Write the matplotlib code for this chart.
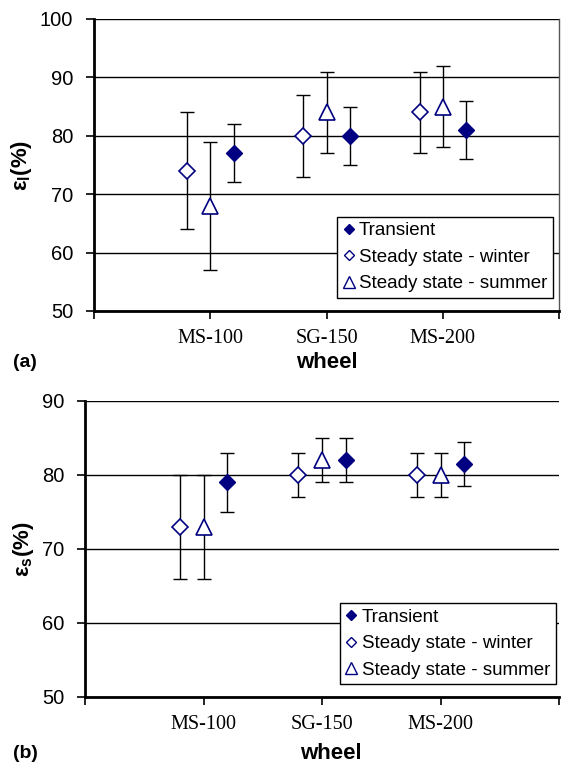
import numpy as np
import matplotlib
matplotlib.use("Agg")
import matplotlib.pyplot as plt

plt.rcParams['font.family'] = ['Liberation Sans', 'DejaVu Sans']
plt.rcParams['mathtext.fontset'] = 'custom'
plt.rcParams['mathtext.rm'] = 'Liberation Sans:bold'

wheels = ["MS-100", "SG-150", "MS-200"]
series = ["Transient", "Steady state - winter", "Steady state - summer"]

# (a) epsilon_l, mean and +/- error
eps_l_transient = [77, 80, 81]
eps_l_transient_err = [5, 5, 5]
eps_l_winter = [74, 80, 84]
eps_l_winter_err = [10, 7, 7]
eps_l_summer = [68, 84, 85]
eps_l_summer_err = [11, 7, 7]

# (b) epsilon_s
eps_s_transient = [79, 82, 81.5]
eps_s_transient_err = [4, 3, 3]
eps_s_winter = [73, 80, 80]
eps_s_winter_err = [7, 3, 3]
eps_s_summer = [73, 82, 80]
eps_s_summer_err = [7, 3, 3]

NAVY = "#000080"
offsets = {"Transient": 0.2, "Steady state - winter": -0.2, "Steady state - summer": 0.0}
styles = {
    "Transient": dict(marker="D", ms=8, mfc=NAVY, mec=NAVY, mew=1.0),
    "Steady state - winter": dict(marker="D", ms=8, mfc="white", mec=NAVY, mew=1.2),
    "Steady state - summer": dict(marker="^", ms=12, mfc="white", mec=NAVY, mew=1.2),
}


def draw_panel(ax, data, ylim, yticks, ylabel, right_spine):
    x = np.arange(1, len(wheels) + 1)
    for name in series:
        vals, errs = data[name]
        ax.errorbar(x + offsets[name], vals, yerr=errs, fmt="none", ecolor="black",
                    elinewidth=1.0, capsize=5, capthick=1.0, zorder=3)
        ax.plot(x + offsets[name], vals, ls="none", label=name, zorder=4, **styles[name])

    ax.set_xlim(0, 4)
    ax.set_ylim(*ylim)
    ax.set_yticks(yticks)
    ax.set_xticks([0, 1, 2, 3, 4])
    ax.set_xticklabels([""] + wheels + [""], family="Liberation Serif", fontsize=14.5)
    ax.tick_params(axis="y", labelsize=14.5, length=6, width=1.2, direction="out", pad=9)
    ax.tick_params(axis="x", length=6, width=1.2, direction="out", pad=7)
    ax.yaxis.grid(True, color="black", lw=1.0, zorder=0)
    ax.set_axisbelow(True)
    for s in ["left", "bottom"]:
        ax.spines[s].set_linewidth(2.0)
    ax.spines["top"].set_visible(False)
    if right_spine:
        ax.spines["right"].set_color("#555555")
        ax.spines["right"].set_linewidth(1.0)
    else:
        ax.spines["right"].set_visible(False)
    ax.set_ylabel(ylabel, fontsize=16, fontweight="bold", labelpad=4)

    handles, labels = ax.get_legend_handles_labels()
    leg_handles = []
    for h in handles:
        h2 = matplotlib.lines.Line2D([], [], ls="none", marker=h.get_marker(),
                                     ms=h.get_markersize() * 0.7, mfc=h.get_markerfacecolor(),
                                     mec=h.get_markeredgecolor(), mew=1.0)
        leg_handles.append(h2)
    leg = ax.legend(leg_handles, labels, loc="lower right", fontsize=13.5, frameon=True,
                    fancybox=False, edgecolor="black", framealpha=1, borderaxespad=0,
                    handlelength=0.6, handletextpad=0.25, labelspacing=0.5,
                    borderpad=0.3)
    leg.get_frame().set_linewidth(1.0)
    return leg


fig = plt.figure(figsize=(5.61, 7.65), dpi=100)

ax1 = fig.add_axes([0.1676, 0.5935, 0.829, 0.3817])
data_a = {
    "Transient": (eps_l_transient, eps_l_transient_err),
    "Steady state - winter": (eps_l_winter, eps_l_winter_err),
    "Steady state - summer": (eps_l_summer, eps_l_summer_err),
}
leg1 = draw_panel(ax1, data_a, (50, 100), [50, 60, 70, 80, 90, 100],
                  r"ε$_{\rm l}$(%)", True)
leg1.set_bbox_to_anchor((0.987, 0.0445), transform=ax1.transAxes)

ax2 = fig.add_axes([0.1515, 0.0889, 0.845, 0.387])
data_b = {
    "Transient": (eps_s_transient, eps_s_transient_err),
    "Steady state - winter": (eps_s_winter, eps_s_winter_err),
    "Steady state - summer": (eps_s_summer, eps_s_summer_err),
}
leg2 = draw_panel(ax2, data_b, (50, 90), [50, 60, 70, 80, 90],
                  r"ε$_{\rm s}$(%)", False)
leg2.set_bbox_to_anchor((0.993, 0.043), transform=ax2.transAxes)

# axis titles and panel tags placed on the figure
fig.text(327 / 561, 1 - 368 / 765, "wheel", ha="center", va="baseline",
         fontsize=16, fontweight="bold")
fig.text(331 / 561, 1 - 759 / 765, "wheel", ha="center", va="baseline",
         fontsize=16, fontweight="bold")
fig.text(13 / 561, 1 - 367 / 765, "(a)", ha="left", va="baseline",
         fontsize=14, fontweight="bold")
fig.text(13 / 561, 1 - 758 / 765, "(b)", ha="left", va="baseline",
         fontsize=14, fontweight="bold")

fig.savefig("out.png", dpi=100)
